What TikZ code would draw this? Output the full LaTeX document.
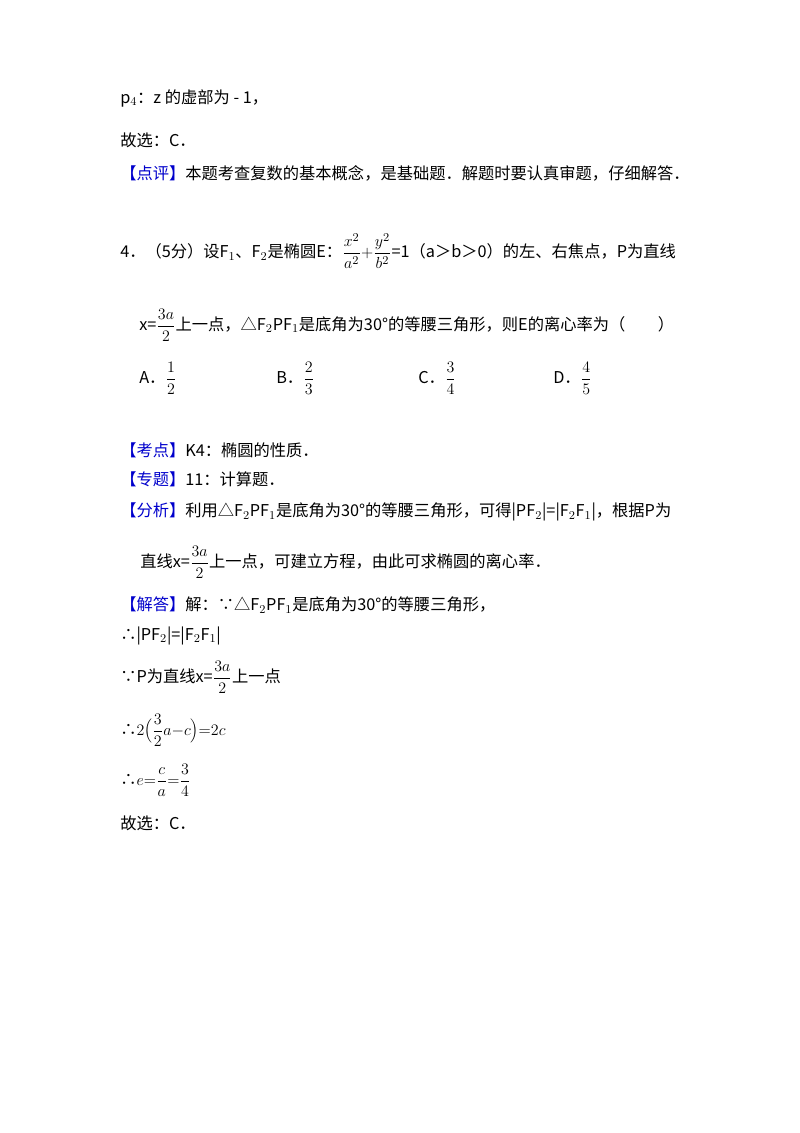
\documentclass[tikz,border=0pt]{standalone}
\usepackage{fontspec}
\setmainfont{Noto Sans CJK SC}
\begin{document}
\begin{tikzpicture}[x=0.75pt,y=-0.75pt,
  t/.style={anchor=west,inner sep=0pt,font=\fontsize{12.2}{15}\selectfont}]
\useasboundingbox[fill=white] (0,0) rectangle (800,1133);
\newcommand{\hl}[1]{\textcolor{blue!80!black}{#1}}
\newcommand{\fr}[2]{$\displaystyle\frac{#1}{#2}$}
\node[t] (l1) at (120,98) {p$_4$：z 的虚部为 - 1，};
\node[t] (l2) at (120,140) {故选：C．};
\node[t] (l3) at (120,173) {\hl{【点评】}本题考查复数的基本概念，是基础题．解题时要认真审题，仔细解答．};
\node[t] (l4) at (120,251) {4．（5分）设F$_1$、F$_2$是椭圆E：$\displaystyle\frac{x^2}{a^2}{+}\frac{y^2}{b^2}$=1（a＞b＞0）的左、右焦点，P为直线};
\node[t] (l5) at (139,325) {x=\fr{3a}{2}上一点，△F$_2$PF$_1$是底角为30°的等腰三角形，则E的离心率为（　　）};
\node[t] (oa) at (139,378) {A．\fr{1}{2}};
\node[t] (ob) at (276,378) {B．\fr{2}{3}};
\node[t] (oc) at (418,378) {C．\fr{3}{4}};
\node[t] (od) at (553,378) {D．\fr{4}{5}};
\node[t] (k1) at (120,450) {\hl{【考点】}K4：椭圆的性质．};
\node[t] (k2) at (120,479) {\hl{【专题】}11：计算题．};
\node[t] (k3) at (120,512) {\hl{【分析】}利用△F$_2$PF$_1$是底角为30°的等腰三角形，可得|PF$_2$|=|F$_2$F$_1$|，根据P为};
\node[t] (k4) at (140,562) {直线x=\fr{3a}{2}上一点，可建立方程，由此可求椭圆的离心率．};
\node[t] (s1) at (120,605) {\hl{【解答】}解：∵△F$_2$PF$_1$是底角为30°的等腰三角形，};
\node[t] (s2) at (120,636) {∴|PF$_2$|=|F$_2$F$_1$|};
\node[t] (s3) at (120,677) {∵P为直线x=\fr{3a}{2}上一点};
\node[t] (s4) at (120,730) {∴$\displaystyle2\Bigl(\frac{3}{2}a{-}c\Bigr){=}2c$};
\node[t] (s5) at (120,780) {∴$\displaystyle e{=}\frac{c}{a}{=}\frac{3}{4}$};
\node[t] (s6) at (120,823) {故选：C．};
\end{tikzpicture}
\end{document}
